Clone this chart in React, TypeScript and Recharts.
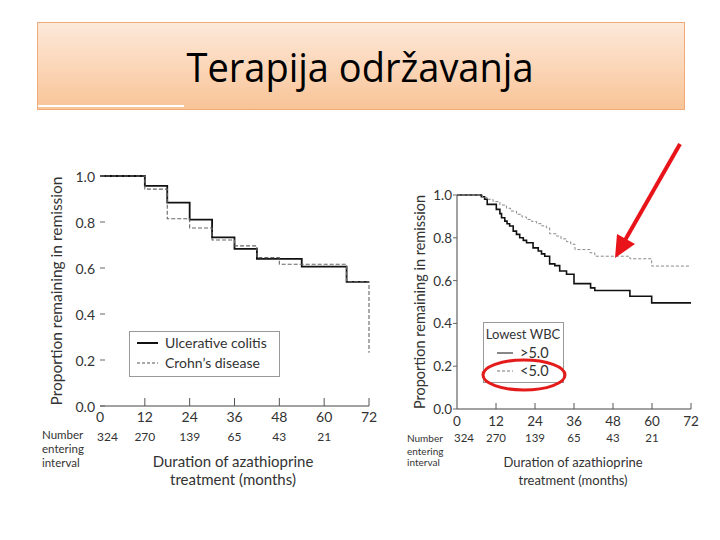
import { LineChart, Line, XAxis, YAxis } from 'recharts'

// shared axes
const months = [0, 12, 24, 36, 48, 60, 72]
const yTicks = [0, 0.2, 0.4, 0.6, 0.8, 1.0]
const riskMonths = [0, 12, 24, 36, 48, 60]
const atRisk = [324, 270, 139, 65, 43, 21]

// left panel: UC vs Crohn's
const ucTime = [0, 12, 18, 24, 30, 36, 42, 54, 66, 72]
const ucVal = [1.0, 0.957, 0.884, 0.81, 0.733, 0.683, 0.64, 0.606, 0.54, 0.54]
const cdTime = [0, 12, 18, 24, 30, 36, 42, 48, 66, 72]
const cdVal = [1.0, 0.943, 0.814, 0.774, 0.722, 0.696, 0.645, 0.616, 0.54, 0.232]

// right panel: lowest WBC
const hiTime = [0, 7.5, 8.5, 9.3, 12.1, 13.2, 13.7, 14.7, 15.4, 16.2, 17.3, 18.3, 19.3, 20.4, 21.4, 23.4, 25.0, 26.0, 27.0, 28.5, 30.1, 31.6, 33.7, 36.0, 41.1, 42.4, 53.2, 59.9, 72]
const hiVal = [1.0, 0.992, 0.98, 0.956, 0.933, 0.913, 0.894, 0.878, 0.866, 0.855, 0.831, 0.816, 0.8, 0.788, 0.777, 0.753, 0.738, 0.725, 0.714, 0.678, 0.67, 0.645, 0.63, 0.586, 0.566, 0.554, 0.527, 0.496, 0.496]
const loTime = [0, 7.8, 9.5, 11.1, 13.2, 15.2, 16.5, 18.3, 20.0, 21.4, 23.0, 24.5, 26.0, 27.5, 28.5, 30.6, 32.0, 33.7, 35.0, 36.3, 40.9, 42.4, 53.2, 59.9, 72]
const loVal = [1.0, 0.988, 0.98, 0.969, 0.953, 0.938, 0.925, 0.91, 0.897, 0.886, 0.876, 0.866, 0.856, 0.847, 0.819, 0.808, 0.795, 0.782, 0.77, 0.745, 0.73, 0.714, 0.702, 0.668, 0.668]

const toRows = (ts: number[], vs: number[]) => ts.map((t, i) => ({ t, v: vs[i] }))

const FONT = 'Lato, "Noto Sans", sans-serif'
const INK = '#333'

function MonthTick(props: any) {
  const { x, y, payload, fs, lift, drop, gap } = props
  const idx = riskMonths.indexOf(payload.value)
  return (
    <g>
      {payload.value > 0 && <line x1={x} x2={x} y1={y} y2={y - lift} stroke="#555" />}
      <text x={x} y={y + drop} textAnchor="middle" fontSize={fs} fill={INK} fontFamily={FONT}>
        {payload.value}
      </text>
      {idx >= 0 && (
        <text x={idx === 0 ? x - 3 : x} y={y + drop + gap} textAnchor={idx === 0 ? 'start' : 'middle'}
          fontSize={fs - 2} fill={INK} fontFamily={FONT}>
          {atRisk[idx]}
        </text>
      )}
    </g>
  )
}

// y tick: tick mark (inward if len < 0) plus right-aligned label
function PropTick(props: any) {
  const { x, y, payload, fs, len, gap } = props
  return (
    <g>
      <line x1={x} x2={x - len} y1={y} y2={y} stroke="#666" />
      <text x={x - gap} y={y} textAnchor="end" dominantBaseline="central" fontSize={fs} fill={INK} fontFamily={FONT}>
        {payload.value.toFixed(1)}
      </text>
    </g>
  )
}

function YTitle(props: any) {
  const { viewBox, value, dx, fs } = props
  const cx = viewBox.x + dx
  const cy = viewBox.y + viewBox.height / 2
  return (
    <text x={cx} y={cy} transform={`rotate(-90 ${cx} ${cy})`} textAnchor="middle" dominantBaseline="central"
      fontSize={fs} fill={INK} fontFamily={FONT}>
      {value}
    </text>
  )
}

function LeftChart() {
  return (
    <LineChart width={360} height={340} margin={{ top: 16, right: 21, left: 10, bottom: 54 }}>
      <XAxis dataKey="t" type="number" domain={[0, 72]} ticks={months} height={40}
        axisLine={{ stroke: '#444' }} tickLine={false} tickSize={0} tickMargin={0}
        tick={(p: any) => <MonthTick {...p} fs={14} lift={8} drop={16} gap={19} />} />
      <YAxis type="number" domain={[0, 1]} ticks={yTicks} width={60} axisLine={false}
        tickLine={false} tickSize={0} tickMargin={0}
        tick={(p: any) => <PropTick {...p} fs={14} len={-5} gap={5} />}
        label={(p: any) => <YTitle {...p} value="Proportion remaining in remission" dx={16} fs={15.5} />} />
      <Line data={toRows(ucTime, ucVal)} dataKey="v" type="stepAfter" stroke="#111" strokeWidth={1.8}
        dot={false} isAnimationActive={false} />
      <Line data={toRows(cdTime, cdVal)} dataKey="v" type="stepAfter" stroke="#666" strokeWidth={1.1}
        strokeDasharray="4 2" dot={false} isAnimationActive={false} />
    </LineChart>
  )
}

function RightChart() {
  return (
    <LineChart width={310} height={320} margin={{ top: 15, right: 19, left: 0, bottom: 51 }}>
      <XAxis dataKey="t" type="number" domain={[0, 72]} ticks={months} height={40}
        axisLine={{ stroke: '#444' }} tickLine={false} tickSize={0} tickMargin={0}
        tick={(p: any) => <MonthTick {...p} fs={13.5} lift={6} drop={17} gap={16} />} />
      <YAxis type="number" domain={[0, 1]} ticks={yTicks} width={57} axisLine={{ stroke: '#444' }}
        tickLine={false} tickSize={0} tickMargin={0}
        tick={(p: any) => <PropTick {...p} fs={13.5} len={4} gap={5} />}
        label={(p: any) => <YTitle {...p} value="Proportion remaining in remission" dx={19} fs={14.5} />} />
      <Line data={toRows(hiTime, hiVal)} dataKey="v" type="stepAfter" stroke="#111" strokeWidth={1.6}
        dot={false} isAnimationActive={false} />
      <Line data={toRows(loTime, loVal)} dataKey="v" type="stepAfter" stroke="#888" strokeWidth={1}
        strokeDasharray="3 2" dot={false} isAnimationActive={false} />
    </LineChart>
  )
}

const abs = (left: number, top: number, extra: any = {}) => ({ position: 'absolute' as const, left, top, ...extra })

export default function App() {
  return (
    <div style={abs(0, 0, { width: 720, height: 540, background: '#fff', fontFamily: FONT, color: INK, overflow: 'hidden' })}>
      {/* slide title */}
      <div style={abs(37, 22, {
        width: 648, height: 88, boxSizing: 'border-box',
        background: 'linear-gradient(#fde9da, #f9c497)', border: '1px solid #efac7a',
      })} />
      <div style={abs(38, 105, { width: 146, height: 2, background: '#fff' })} />

      <div style={abs(30, 160)}><LeftChart /></div>
      <div style={abs(400, 180)}><RightChart /></div>

      <svg width={720} height={540} style={abs(0, 0, { pointerEvents: 'none' })}>
        <text x={360} y={82} textAnchor="middle" fontSize={40} textLength={347} lengthAdjust="spacingAndGlyphs"
          fontFamily='"Open Sans", sans-serif' fill="#000">Terapija održavanja</text>

        {/* number at risk labels + x titles */}
        <g fontFamily={FONT} fill={INK}>
          <text x={42} y={439} fontSize={11.5}>Number</text>
          <text x={42} y={453} fontSize={11.5}>entering</text>
          <text x={42} y={467} fontSize={11.5}>interval</text>
          <text x={233} y={467} fontSize={15} textAnchor="middle">Duration of azathioprine</text>
          <text x={233} y={485} fontSize={15} textAnchor="middle">treatment (months)</text>

          <text x={407} y={442} fontSize={10}>Number</text>
          <text x={407} y={455} fontSize={10}>entering</text>
          <text x={407} y={466} fontSize={10}>interval</text>
          <text x={573} y={467} fontSize={13} textAnchor="middle">Duration of azathioprine</text>
          <text x={573} y={485} fontSize={13} textAnchor="middle">treatment (months)</text>
        </g>

        {/* left legend */}
        <rect x={129.5} y={331.5} width={150} height={45} fill="#fff" stroke="#999" />
        <line x1={137} x2={158} y1={343} y2={343} stroke="#111" strokeWidth={2} />
        <text x={165} y={348} fontSize={14} fill={INK} fontFamily={FONT}>Ulcerative colitis</text>
        <line x1={137} x2={158} y1={363} y2={363} stroke="#555" strokeDasharray="3 2" />
        <text x={165} y={368} fontSize={14} fill={INK} fontFamily={FONT}>Crohn’s disease</text>

        {/* right legend */}
        <rect x={483.5} y={322.5} width={80} height={60} fill="#fff" stroke="#999" />
        <text x={523} y={339} fontSize={13} textAnchor="middle" fill={INK} fontFamily={FONT}>Lowest WBC</text>
        <line x1={497} x2={513} y1={353} y2={353} stroke="#111" />
        <text x={520} y={358} fontSize={14.5} fill={INK} fontFamily={FONT}>&gt;5.0</text>
        <line x1={497} x2={513} y1={371} y2={371} stroke="#777" strokeDasharray="3 2" />
        <text x={520} y={376} fontSize={14.5} fill={INK} fontFamily={FONT}>&lt;5.0</text>

        {/* red highlights */}
        <ellipse cx={524} cy={375} rx={41} ry={15} fill="none" stroke="#e31b1b" strokeWidth={3} />
        <line x1={680} y1={144} x2={624} y2={242} stroke="#e8141a" strokeWidth={4} />
        <polygon points="615,258 635,244 617,234" fill="#e8141a" />
      </svg>
    </div>
  )
}
